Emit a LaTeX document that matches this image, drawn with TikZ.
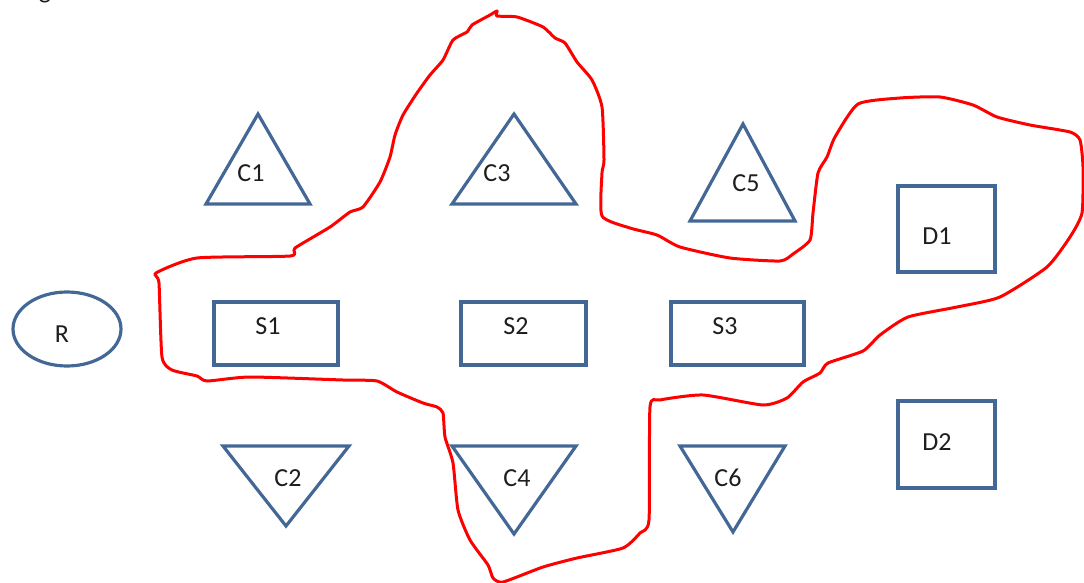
\documentclass[tikz,border=0pt]{standalone}
\usepackage{fontspec}
\setmainfont{Carlito}
\usetikzlibrary{shapes.geometric}
\definecolor{shapeblue}{RGB}{68,104,150}
\definecolor{txt}{RGB}{30,30,30}
\begin{document}
\begin{tikzpicture}[x=1pt,y=-1pt,
  shp/.style={draw=shapeblue,line width=3.2pt,line join=miter},
  lbl/.style={text=txt,font=\fontsize{26}{30}\selectfont,inner sep=0pt},
  cloud/.style={draw=red,line width=3pt,line join=round,line cap=round}]
\useasboundingbox (0,0) rectangle (1084,583);
% fragment at top
\node[lbl,anchor=base] (frag) at (45,-1) {g};
% R
\draw[shp] (67,329) ellipse [x radius=54, y radius=37];
\node[lbl] (R) at (62,334) {R};
% upward triangles
\draw[shp] (258,114) -- (310,204) -- (206,204) -- cycle;
\node[lbl] (C1) at (251,173) {C1};
\draw[shp] (514,114) -- (576,204) -- (452,204) -- cycle;
\node[lbl] (C3) at (497,173) {C3};
\draw[shp] (743,124) -- (795,221) -- (690,221) -- cycle;
\node[lbl] (C5) at (746,183) {C5};
% downward triangles
\draw[shp] (223,446) -- (349,446) -- (286,526) -- cycle;
\node[lbl] (C2) at (288,478) {C2};
\draw[shp] (452,446) -- (576,446) -- (514,534) -- cycle;
\node[lbl] (C4) at (517,478) {C4};
\draw[shp] (680,446) -- (785,446) -- (733,532) -- cycle;
\node[lbl] (C6) at (728,478) {C6};
% rectangles
\draw[shp] (214,302) rectangle (338,365);
\node[lbl] (S1) at (268,326) {S1};
\draw[shp] (461,302) rectangle (586,365);
\node[lbl] (S2) at (516,326) {S2};
\draw[shp] (671,302) rectangle (804,365);
\node[lbl] (S3) at (725,326) {S3};
\draw[shp] (898,186) rectangle (995,272);
\node[lbl] (D1) at (937,236) {D1};
\draw[shp] (898,401) rectangle (995,488);
\node[lbl] (D2) at (937,442) {D2};
% red freehand outline
\draw[cloud] plot[smooth cycle,tension=0.35] coordinates {
(156,273) (197,258) (290,256) (295,248) (330,227) (350,212) (363,207) (380,182)
(390,157) (395,135) (403,115) (417,93) (430,75) (443,60) (453,40) (467,32) (472,25)
(490,15) (497,11) (497,16) (517,17) (543,27) (555,38) (565,43) (577,62) (592,80)
(602,107) (604,160) (602,173) (602,216) (630,228) (657,235) (680,247) (730,258)
(780,261) (793,254) (810,240) (813,213) (818,173) (827,157) (835,137) (858,104)
(900,98) (940,97) (973,105) (997,117) (1030,125) (1070,132) (1080,140) (1083,167)
(1082,213) (1070,237) (1047,267) (1000,297) (957,307) (908,317) (880,335) (863,351)
(828,363) (820,373) (803,382) (787,398) (763,405) (703,395) (660,400) (650,407)
(649,520) (640,533) (623,548) (577,558) (543,567) (503,582) (493,578) (488,565)
(470,540) (458,510) (453,463) (445,437) (443,413) (437,407) (423,403) (397,392)
(377,381) (343,380) (250,377) (207,381) (197,376) (172,370) (162,357) (159,283)};
\end{tikzpicture}
\end{document}
